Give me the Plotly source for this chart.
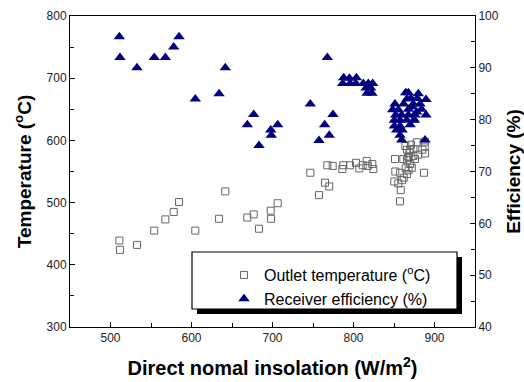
import plotly.graph_objects as go

# Receiver efficiency (%) vs direct normal insolation
eff_dni = [510.9, 511.7, 532.7, 554.0, 567.7, 578.0, 584.6, 604.7, 634.0, 641.7,
           668.9, 676.8, 683.3, 697.8, 706.4, 698.5, 746.7, 767.7, 774.7, 764.4,
           770.1, 757.4,
           787.9, 803.5, 786.7, 795.7, 803.0, 812.1, 818.3, 823.7, 815.5, 821.2,
           822.8, 816.7, 795.0,
           864.4, 867.7, 851.2, 848.4, 855.3, 871.0, 878.8, 889.5, 873.8, 882.1,
           889.5, 852.1, 859.5, 867.7, 875.9, 850.4, 857.4, 865.7, 874.7, 850.4,
           857.4, 853.3, 857.4, 859.5, 888.3,
           868.0, 872.0, 862.0, 870.0, 878.0, 866.0, 880.0, 875.0, 884.0, 860.0]
eff_val = [96.0, 92.0, 90.0, 92.0, 92.0, 94.0, 96.0, 84.0, 85.0, 90.0,
           79.0, 81.0, 75.0, 78.0, 79.0, 77.0, 83.0, 92.0, 81.0, 79.0,
           77.0, 76.0,
           88.1, 88.1, 87.0, 87.0, 87.0, 87.0, 87.0, 87.0, 86.1, 86.1,
           85.1, 85.1, 88.0,
           85.2, 85.2, 83.0, 81.9, 81.9, 84.1, 84.1, 83.9, 83.0, 83.0,
           80.9, 80.9, 80.9, 80.9, 80.9, 79.9, 79.9, 79.9, 79.9, 78.8,
           78.8, 78.0, 77.0, 76.1, 76.1,
           82.0, 82.5, 83.0, 79.0, 81.5, 84.0, 85.0, 80.0, 82.0, 78.0]

# Outlet temperature (oC) vs direct normal insolation
temp_dni = [510.9, 511.7, 532.7, 554.0, 567.7, 578.0, 584.6, 604.7, 634.0, 641.7,
            668.9, 676.8, 683.3, 697.8, 698.2, 706.4, 746.7, 757.4, 764.8, 770.1,
            767.7, 774.3, 786.2, 787.4, 795.7, 803.1, 807.2, 811.4, 816.3, 817.6,
            823.2, 824.5,
            851.2, 851.6, 857.4, 850.4, 855.3, 858.3, 857.4, 864.4, 861.5, 867.7,
            880.0, 888.3, 887.0,
            864.0, 871.0, 878.0, 888.0, 888.0, 885.0, 874.0, 869.0, 866.0, 870.0,
            872.0, 868.0, 866.0, 862.0, 860.0, 868.0, 874.0, 876.0, 870.0, 866.0]
temp_val = [439, 424, 432, 455, 473, 485, 501, 455, 474, 518,
            476, 481, 458, 487, 474, 499, 548, 512, 532, 526,
            560, 559, 554, 560, 560, 564, 555, 560, 567, 559,
            562, 554,
            570, 550, 548, 534, 531, 520, 502, 555, 570, 574,
            577, 579, 548,
            591, 593, 597, 598, 590, 585, 586, 580, 568, 562,
            556, 552, 546, 540, 536, 572, 575, 570, 585, 585]

FONT = "Arial, Liberation Sans, sans-serif"

fig = go.Figure()
fig.add_trace(go.Scatter(
    x=temp_dni, y=temp_val, mode="markers",
    name="Outlet temperature (<sup>o</sup>C)",
    marker=dict(symbol="square-open", size=7, color="#666666",
                line=dict(width=1, color="#666666")),
    yaxis="y"))
fig.add_trace(go.Scatter(
    x=eff_dni, y=eff_val, mode="markers",
    name="Receiver efficiency (%)",
    marker=dict(symbol="triangle-up", size=10, color="#000080"),
    yaxis="y2"))

# plot area in pixels: x 70..475, y 16..327
def px(x):
    return (x - 70) / 405.0

def py(y):
    return (327 - y) / 311.0

fig.add_shape(type="rect", xref="paper", yref="paper",
              x0=px(197), x1=px(462), y0=py(314), y1=py(257),
              fillcolor="black", line=dict(width=0), layer="above")
fig.add_shape(type="rect", xref="paper", yref="paper",
              x0=px(192), x1=px(457), y0=py(309), y1=py(252),
              fillcolor="white", line=dict(width=1.2, color="black"), layer="above")

fig.update_layout(
    width=524, height=382,
    margin=dict(l=70, r=49, t=16, b=55),
    paper_bgcolor="white", plot_bgcolor="white",
    font=dict(family=FONT, size=12, color="#222222"),
    showlegend=True,
    legend=dict(x=px(224), y=py(258), xanchor="left", yanchor="top",
                bgcolor="rgba(0,0,0,0)", borderwidth=0,
                font=dict(size=16, color="black"), tracegroupgap=0),
    xaxis=dict(range=[450, 950], dtick=100, tick0=500, automargin=False,
               showline=True, linecolor="black", linewidth=1, mirror=True,
               ticks="inside", ticklen=5, tickcolor="black",
               minor=dict(dtick=50, ticks="inside", ticklen=4, tickcolor="black"),
               showgrid=False, zeroline=False,
               tickfont=dict(size=12, color="#222222"),
               title=dict(text="<b>Direct nomal insolation (W/m<sup>2</sup>)</b>",
                          font=dict(size=20, color="black"), standoff=16)),
    yaxis=dict(range=[300, 800], dtick=100, automargin=False,
               showline=True, linecolor="black", linewidth=1,
               ticks="inside", ticklen=5, tickcolor="black",
               minor=dict(dtick=50, ticks="inside", ticklen=4, tickcolor="black"),
               showgrid=False, zeroline=False,
               tickfont=dict(size=12, color="#222222"),
               title=dict(text="<b>Temperature (<sup>o</sup>C)</b>",
                          font=dict(size=19, color="black"), standoff=9)),
    yaxis2=dict(range=[40, 100], dtick=10, overlaying="y", side="right",
                automargin=False,
                showline=True, linecolor="black", linewidth=1,
                ticks="inside", ticklen=5, tickcolor="black",
                minor=dict(dtick=5, ticks="inside", ticklen=4, tickcolor="black"),
                showgrid=False, zeroline=False,
                tickfont=dict(size=12, color="#222222"),
                title=dict(text="<b>Efficiency (%)</b>",
                           font=dict(size=19, color="black"), standoff=10)),
)

fig.write_html("out.html")
